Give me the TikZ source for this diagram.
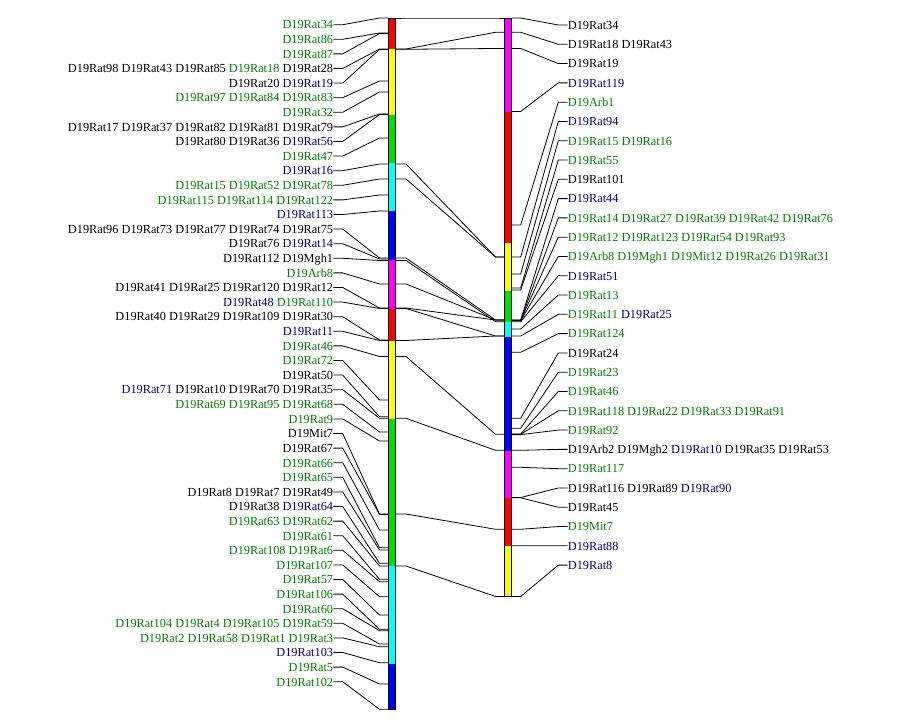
\documentclass[tikz,border=0pt]{standalone}
\usepackage{fontspec}
\setmainfont{Liberation Serif}
\definecolor{tg}{RGB}{0,128,0}
\definecolor{tb}{RGB}{0,0,128}
\definecolor{bred}{RGB}{255,0,0}
\definecolor{byel}{RGB}{255,255,0}
\definecolor{bgrn}{RGB}{0,221,0}
\definecolor{bcya}{RGB}{0,255,255}
\definecolor{bblu}{RGB}{0,0,255}
\definecolor{bmag}{RGB}{255,0,255}
\newcommand\G[1]{\textcolor{tg}{#1}}
\newcommand\B[1]{\textcolor{tb}{#1}}
\begin{document}
\begin{tikzpicture}[x=1pt,y=-1pt,
  lbl/.style={inner sep=0pt, text height=8.6pt, text depth=0pt, font=\fontsize{12.3}{14}\selectfont},
  conn/.style={line width=0.8pt, black},
  barline/.style={line width=0.9pt, black}]
\useasboundingbox (0,0) rectangle (900,727);
% left bar
\foreach \a/\b/\c in {18/49.3/bred, 49.3/114.7/byel, 114.7/163.3/bgrn, 163.3/211/bcya, 211/260/bblu, 260/309/bmag, 309/340.7/bred, 340.7/419/byel, 419/565.7/bgrn, 565.7/664/bcya, 664/709.3/bblu}
  \fill[\c] (388,\a) rectangle (396,\b);
\node[draw, barline, inner sep=0pt, minimum width=7.4pt, minimum height=691.3pt] (leftbar) at (392,363.65) {};
% right bar
\foreach \a/\b/\c in {18/111.7/bmag, 111.7/242.7/bred, 242.7/291/byel, 291/321.7/bgrn, 321.7/337/bcya, 337/450.7/bblu, 450.7/497.7/bmag, 497.7/546/bred, 546/596.7/byel}
  \fill[\c] (504,\a) rectangle (512,\b);
\node[draw, barline, inner sep=0pt, minimum width=7.4pt, minimum height=578.7pt] (rightbar) at (508,307.35) {};
% left markers
\foreach \i/\p/\t in {
 1/18/{\G{D19Rat34}},
 2/33/{\G{D19Rat86}},
 3/33.5/{\G{D19Rat87}},
 4/49/{D19Rat98 D19Rat43 D19Rat85 \G{D19Rat18} D19Rat28},
 5/49.5/{D19Rat20 \B{D19Rat19}},
 6/81/{\G{D19Rat97 D19Rat84 D19Rat83}},
 7/92/{\G{D19Rat32}},
 8/114/{D19Rat17 D19Rat37 D19Rat82 D19Rat81 D19Rat79},
 9/114.5/{D19Rat80 D19Rat36 \B{D19Rat56}},
 10/138/{\G{D19Rat47}},
 11/164/{\B{D19Rat16}},
 12/179/{\G{D19Rat15 D19Rat52 D19Rat78}},
 13/195/{\G{D19Rat115 D19Rat114 D19Rat122}},
 14/211/{\B{D19Rat113}},
 15/258/{D19Rat96 D19Rat73 D19Rat77 D19Rat74 D19Rat75},
 16/259/{D19Rat76 \B{D19Rat14}},
 17/260.5/{D19Rat112 D19Mgh1},
 18/284/{\G{D19Arb8}},
 19/308/{D19Rat41 D19Rat25 D19Rat120 D19Rat12},
 20/308.5/{\B{D19Rat48} \G{D19Rat110}},
 21/340/{D19Rat40 D19Rat29 D19Rat109 D19Rat30},
 22/340.5/{\B{D19Rat11}},
 23/356.5/{\G{D19Rat46}},
 24/400/{\G{D19Rat72}},
 25/416.7/{D19Rat50},
 26/418.3/{\B{D19Rat71} D19Rat10 D19Rat70 D19Rat35},
 27/432/{\G{D19Rat69 D19Rat95 D19Rat68}},
 28/441/{\G{D19Rat9}},
 29/514/{D19Mit7},
 30/514.5/{D19Rat67},
 31/530/{\G{D19Rat66}},
 32/547.7/{\G{D19Rat65}},
 33/550/{D19Rat8 D19Rat7 D19Rat49},
 34/563.3/{D19Rat38 \B{D19Rat64}},
 35/566/{\G{D19Rat63 D19Rat62}},
 36/579.3/{\G{D19Rat61}},
 37/581.7/{\G{D19Rat108 D19Rat6}},
 38/596.7/{\G{D19Rat107}},
 39/615/{\G{D19Rat57}},
 40/629.3/{\G{D19Rat106}},
 41/630.7/{\G{D19Rat60}},
 42/644/{\G{D19Rat104 D19Rat4 D19Rat105 D19Rat59}},
 43/646.7/{\G{D19Rat2 D19Rat58 D19Rat1 D19Rat3}},
 44/662.7/{\B{D19Rat103}},
 45/684/{\G{D19Rat5}},
 46/709.3/{\G{D19Rat102}}}{
  \pgfmathsetmacro\ly{24.7+(\i-1)*14.6}
  \node[lbl, anchor=east] (L\i) at (333.3,\ly) {\t};
  \coordinate (LP\i) at (379.5,\p);
  \draw[conn] (L\i.east) -- ++(9.4,0) -- (LP\i) -- ++(8.5,0);
}
% right markers
\foreach \i/\p/\t in {
 1/18/{D19Rat34},
 2/32.3/{D19Rat18 D19Rat43},
 3/48.5/{D19Rat19},
 4/111.5/{\B{D19Rat119}},
 5/225/{\G{D19Arb1}},
 6/257/{\B{D19Rat94}},
 7/274/{\G{D19Rat15 D19Rat16}},
 8/288/{\G{D19Rat55}},
 9/290/{D19Rat101},
 10/320/{\B{D19Rat44}},
 11/320.2/{\G{D19Rat14 D19Rat27 D19Rat39 D19Rat42 D19Rat76}},
 12/320.4/{\G{D19Rat12 D19Rat123 D19Rat54 D19Rat93}},
 13/320.6/{\G{D19Arb8 D19Mgh1 D19Mit12 D19Rat26 D19Rat31}},
 14/321.7/{\B{D19Rat51}},
 15/329/{\G{D19Rat13}},
 16/336/{\G{D19Rat11} \B{D19Rat25}},
 17/352.3/{\G{D19Rat124}},
 18/418.3/{D19Rat24},
 19/428.3/{\G{D19Rat23}},
 20/434/{\G{D19Rat46}},
 21/434.3/{\G{D19Rat118 D19Rat22 D19Rat33 D19Rat91}},
 22/434.6/{\G{D19Rat92}},
 23/450.3/{D19Arb2 D19Mgh2 \B{D19Rat10} D19Rat35 D19Rat53},
 24/467.3/{\G{D19Rat117}},
 25/497.5/{D19Rat116 D19Rat89 \B{D19Rat90}},
 26/497.8/{D19Rat45},
 27/529.3/{\G{D19Mit7}},
 28/545.7/{\B{D19Rat88}},
 29/596.5/{\B{D19Rat8}}}{
  \pgfmathsetmacro\ry{25+(\i-1)*19.29}
  \node[lbl, anchor=west] (R\i) at (567.7,\ry) {\t};
  \coordinate (RP\i) at (520.7,\p);
  \draw[conn] (R\i.west) -- ++(-9.4,0) -- (RP\i) -- ++(-8.7,0);
}
% comparison lines
\foreach \a/\b [count=\k] in {18/18, 49/32.3, 49.3/48.5, 164/257, 179/257, 258/320, 260.5/321.7, 284/320, 308/320, 308.5/336, 340.5/336, 356.5/434.3, 418.3/450.3, 514/529.3, 566/596.5}{
  \coordinate (CA\k) at (396,\a);
  \coordinate (CM\k) at (495.5,\b);
  \coordinate (CB\k) at (504,\b);
  \draw[conn] (CA\k) -- ++(10,0) -- (CM\k) -- (CB\k);
}
\end{tikzpicture}
\end{document}
